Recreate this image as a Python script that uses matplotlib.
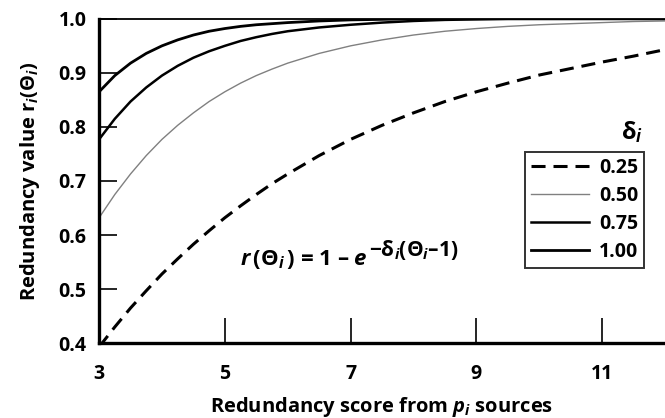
import matplotlib
matplotlib.use('Agg')
import matplotlib.pyplot as plt

plt.rcParams['font.family'] = ['Open Sans', 'DejaVu Sans']
plt.rcParams['font.weight'] = 'bold'
plt.rcParams['mathtext.fontset'] = 'custom'
plt.rcParams['mathtext.rm'] = 'Open Sans:bold'
plt.rcParams['mathtext.it'] = 'Open Sans:italic:bold'
plt.rcParams['mathtext.bf'] = 'Open Sans:bold'

# Valores
theta = [3, 3.25, 3.5, 3.75, 4, 4.25, 4.5, 4.75, 5, 5.25, 5.5, 5.75, 6,
         6.5, 7, 7.5, 8, 8.5, 9, 9.5, 10, 10.5, 11, 11.5, 12]
r_025 = [0.393, 0.430, 0.465, 0.497, 0.528, 0.556, 0.583, 0.608, 0.632, 0.654, 0.675, 0.695, 0.713,
         0.747, 0.777, 0.803, 0.826, 0.847, 0.865, 0.881, 0.896, 0.908, 0.920, 0.931, 0.943]
r_050 = [0.632, 0.675, 0.713, 0.747, 0.777, 0.803, 0.826, 0.847, 0.865, 0.881, 0.895, 0.907, 0.918,
         0.936, 0.950, 0.961, 0.970, 0.977, 0.982, 0.986, 0.989, 0.991, 0.993, 0.995, 0.996]
r_075 = [0.777, 0.815, 0.847, 0.873, 0.895, 0.913, 0.928, 0.940, 0.950, 0.959, 0.966, 0.972, 0.977,
         0.984, 0.989, 0.993, 0.996, 0.998, 0.999, 1.0, 1.0, 1.0, 1.0, 1.0, 1.0]
r_100 = [0.865, 0.895, 0.918, 0.936, 0.950, 0.961, 0.970, 0.977, 0.982, 0.986, 0.989, 0.991, 0.993,
         0.996, 0.998, 0.999, 1.0, 1.0, 1.0, 1.0, 1.0, 1.0, 1.0, 1.0, 1.0]
labels = ['0.25', '0.50', '0.75', '1.00']
x_ticks = [3, 5, 7, 9, 11]
y_ticks = [0.4, 0.5, 0.6, 0.7, 0.8, 0.9, 1.0]

fig = plt.figure(figsize=(6.65, 4.18), dpi=100)
ax = fig.add_axes([0.149, 0.179, 0.851, 0.776])

ax.plot(theta, r_025, color='black', lw=2.2, dashes=(4.6, 2.6), label=labels[0])
ax.plot(theta, r_050, color='#808080', lw=1.0, label=labels[1])
ax.plot(theta, r_075, color='black', lw=1.8, label=labels[2])
ax.plot(theta, r_100, color='black', lw=2.0, label=labels[3])

ax.set_xlim(3, 12)
ax.set_ylim(0.4, 1.0)

# Ejes: izquierda y abajo gruesos, arriba fino, sin derecha
ax.spines['left'].set_linewidth(2.4)
ax.spines['bottom'].set_linewidth(2.4)
ax.spines['top'].set_linewidth(1.3)
ax.spines['right'].set_visible(False)

ax.set_xticks(x_ticks)
ax.set_xticklabels([str(v) for v in x_ticks])
ax.set_yticks(y_ticks)
ax.set_yticklabels([f'{v:.1f}' for v in y_ticks])
ax.tick_params(axis='x', direction='in', length=18, width=1.2, pad=15, labelsize=14)
ax.tick_params(axis='y', direction='in', length=13, width=1.2, pad=9, labelsize=14)
ax.tick_params(top=False, right=False)

ax.set_xlabel(r'Redundancy score from $p_i$ sources', fontsize=14.5, fontweight='bold', labelpad=8)
ax.set_ylabel(r'Redundancy value r$_i$($\Theta_i$)', fontsize=14.5, fontweight='bold', labelpad=12)

# Fórmula: texto principal y exponente por separado (exponente grande)
main = ax.text(0.249, 0.241, r'$r\,(\Theta_i\,)$ = 1 – $e$', transform=ax.transAxes,
               fontsize=16, ha='left', va='baseline')
ax.annotate(r'$-\mathrm{\delta}_i(\Theta_i$–1)', xy=(1, 0), xycoords=main,
            xytext=(1, 15), textcoords='offset pixels', fontsize=15,
            ha='left', va='baseline')

leg = ax.legend(loc='upper left', bbox_to_anchor=(0.753, 0.59), fontsize=14,
                frameon=True, fancybox=False, edgecolor='black', handlelength=3.0,
                borderpad=0.3, labelspacing=0.42, handletextpad=0.5, borderaxespad=0)
leg.get_frame().set_linewidth(1.4)
ax.text(0.942, 0.651, r'$\mathrm{\delta}_i$', transform=ax.transAxes, fontsize=17,
        ha='center', va='center')

fig.savefig('out.png', dpi=100)
